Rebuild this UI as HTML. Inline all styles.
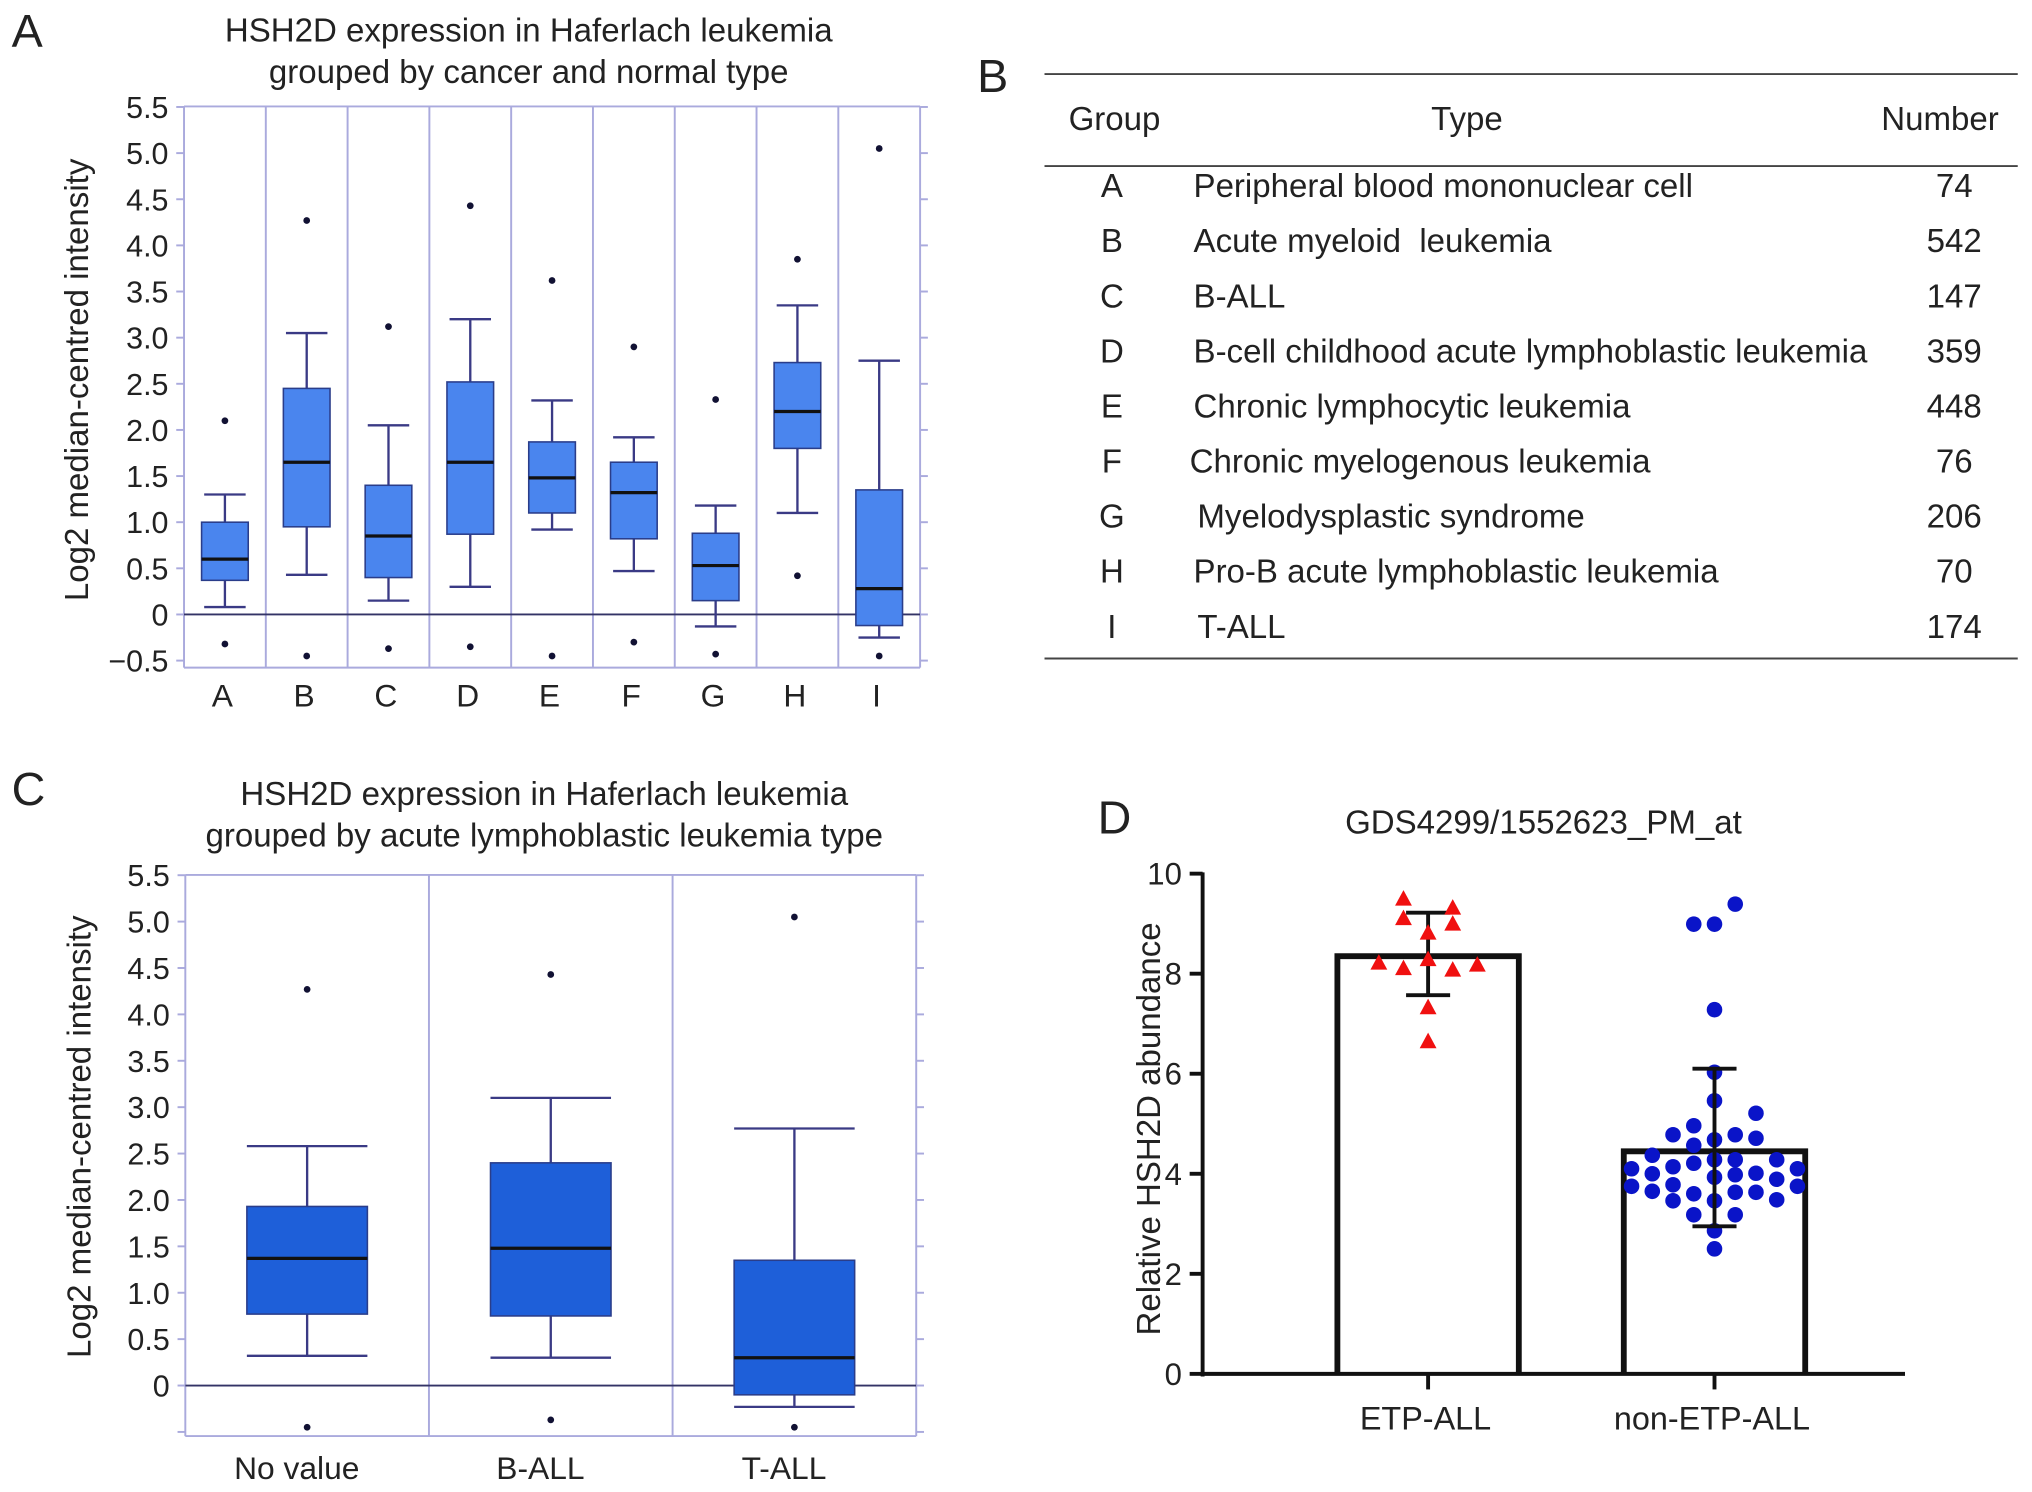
<!DOCTYPE html>
<html><head><meta charset="utf-8"><style>
html,body{margin:0;padding:0;background:#fff}
svg{display:block}
text{font-family:"Liberation Sans",Arial,sans-serif;fill:#222}
</style></head><body>
<svg id="fig" width="2032" height="1492" viewBox="0 0 1568 1151" xmlns="http://www.w3.org/2000/svg">
<g id="pa"></g>
<g id="pb"></g>
<g id="pc"></g>
<g id="pd"></g>
</svg>
<script>
// ---- Panel A data ----
const aCats = ["A","B","C","D","E","F","G","H","I"];
const aWlo = [0.08,0.43,0.15,0.3,0.92,0.47,-0.13,1.1,-0.25];
const aQ1 = [0.37,0.95,0.4,0.87,1.1,0.82,0.15,1.8,-0.12];
const aMed = [0.6,1.65,0.85,1.65,1.48,1.32,0.53,2.2,0.28];
const aQ3 = [1.0,2.45,1.4,2.52,1.87,1.65,0.88,2.73,1.35];
const aWhi = [1.3,3.05,2.05,3.2,2.32,1.92,1.18,3.35,2.75];
const aOutHi = [2.1,4.27,3.12,4.43,3.62,2.9,2.33,3.85,5.05];
const aOutLo = [-0.32,-0.45,-0.37,-0.35,-0.45,-0.3,-0.43,0.42,-0.45];
const yTicks = [-0.5,0,0.5,1.0,1.5,2.0,2.5,3.0,3.5,4.0,4.5,5.0,5.5];
const yTickLabels = ["\u22120.5","0","0.5","1.0","1.5","2.0","2.5","3.0","3.5","4.0","4.5","5.0","5.5"];
// ---- Panel B data ----
const bGroups = ["A","B","C","D","E","F","G","H","I"];
const bTypes = ["Peripheral blood mononuclear cell","Acute myeloid \u00a0leukemia","B-ALL","B-cell childhood acute lymphoblastic leukemia","Chronic lymphocytic leukemia","Chronic myelogenous leukemia","Myelodysplastic syndrome","Pro-B acute lymphoblastic leukemia","T-ALL"];
const bNumbers = [74,542,147,359,448,76,206,70,174];
// ---- Panel C data ----
const cCats = ["No value","B-ALL","T-ALL"];
const cWlo = [0.32,0.3,-0.23];
const cQ1 = [0.77,0.75,-0.1];
const cMed = [1.37,1.48,0.3];
const cQ3 = [1.93,2.4,1.35];
const cWhi = [2.58,3.1,2.77];
const cOutHi = [4.27,4.43,5.05];
const cOutLo = [-0.45,-0.37,-0.45];
// ---- Panel D data ----
const dCats = ["ETP-ALL","non-ETP-ALL"];
const dMeans = [8.35,4.45];
const dErrLo = [7.57,2.95];
const dErrHi = [9.22,6.1];
const dTicks = [0,2,4,6,8,10];
const etpVals = [9.49,9.31,9.10,8.99,8.81,8.28,8.21,8.10,8.07,8.17,7.32,6.64];
const etpSlot = [-1,1,-1,1,0,0,-2,-1,1,2,0,0];
const nonVals = [9.39,8.99,8.99,7.28,6.03,5.46,5.21,4.96,4.78,4.78,4.68,4.71,4.57,4.37,4.28,4.28,4.28,4.21,4.10,4.14,4.10,4.00,3.93,3.98,4.01,3.75,3.78,3.89,3.75,3.65,3.60,3.63,3.63,3.46,3.46,3.48,3.18,3.18,2.86,2.50];
const nonSlot = [1,-1,0,0,0,0,2,-1,-2,1,0,2,-1,-3,0,1,3,-1,-4,-2,4,-3,0,1,2,-4,-2,3,4,-3,-1,1,2,0,-2,3,-1,1,0,0];

const NS="http://www.w3.org/2000/svg";
function mk(parent,tag,attrs,txt){const e=document.createElementNS(NS,tag);for(const k in attrs)e.setAttribute(k,attrs[k]);if(txt!==undefined)e.textContent=txt;parent.appendChild(e);return e;}
const grid="#aaaadd", wc="#3a3a85";

function boxPanel(g,o){
  const y=v=>o.y0-v*o.k;
  const n=o.cats.length, cw=(o.x1-o.x0)/n;
  let e=mk(g,"line",{x1:o.x0,y1:o.top,x2:o.x1,y2:o.top,stroke:grid,"stroke-width":1.5});
  
  for(let i=0;i<=n;i++){
    e=mk(g,"line",{x1:o.x0+i*cw,y1:o.top,x2:o.x0+i*cw,y2:o.bot,stroke:grid,"stroke-width":1.5});
    
  }
  e=mk(g,"line",{x1:o.x0,y1:y(0),x2:o.x1,y2:y(0),stroke:"#333366","stroke-width":1.5});
  
  e=mk(g,"line",{x1:o.x0,y1:o.bot,x2:o.x1,y2:o.bot,stroke:grid,"stroke-width":1.5});
  
  o.ticks.forEach((t,i)=>{
    if(y(t)>o.bot+2) return;
    let l=mk(g,"line",{x1:o.x0-6,y1:y(t),x2:o.x0,y2:y(t),stroke:grid,"stroke-width":1.5});
    
    l=mk(g,"line",{x1:o.x1,y1:y(t),x2:o.x1+6,y2:y(t),stroke:grid,"stroke-width":1.5});
    
    if(o.skipTick && t===o.skipTick) return;
    const tx=mk(g,"text",{x:o.x0-12,y:y(t)+8.5,"text-anchor":"end","font-size":23.5},o.labels[i]);
    
  });
  o.cats.forEach((c,i)=>{
    const cx=o.x0+(i+0.5)*cw, hw=o.bw/2, ww=o.ww/2;
    const s=mk(g,"g",{});
    
    mk(s,"line",{x1:cx,y1:y(o.whi[i]),x2:cx,y2:y(o.q3[i]),stroke:wc,"stroke-width":1.8});
    mk(s,"line",{x1:cx,y1:y(o.q1[i]),x2:cx,y2:y(o.wlo[i]),stroke:wc,"stroke-width":1.8});
    mk(s,"line",{x1:cx-ww,y1:y(o.whi[i]),x2:cx+ww,y2:y(o.whi[i]),stroke:wc,"stroke-width":1.8});
    mk(s,"line",{x1:cx-ww,y1:y(o.wlo[i]),x2:cx+ww,y2:y(o.wlo[i]),stroke:wc,"stroke-width":1.8});
    mk(s,"rect",{x:cx-hw,y:y(o.q3[i]),width:o.bw,height:y(o.q1[i])-y(o.q3[i]),fill:o.fill,stroke:"#2a3d8a","stroke-width":1.2});
    mk(s,"line",{x1:cx-hw,y1:y(o.med[i]),x2:cx+hw,y2:y(o.med[i]),stroke:"#111","stroke-width":2.5});
    mk(s,"circle",{cx:cx,cy:y(o.outHi[i]),r:2.6,fill:"#111133"});
    mk(s,"circle",{cx:cx,cy:y(o.outLo[i]),r:2.6,fill:"#111133"});
    const tx=mk(g,"text",{x:cx-(o.labShift||0),y:o.labY,"text-anchor":"middle","font-size":o.labSize},c);
    
  });
}

// Panel A
const pa=document.getElementById("pa");
let t;
t=mk(pa,"text",{x:9,y:36,"font-size":36},"A");
t=mk(pa,"text",{x:408,y:32,"text-anchor":"middle","font-size":25.5},"HSH2D expression in Haferlach leukemia");
t=mk(pa,"text",{x:408,y:64,"text-anchor":"middle","font-size":25.5},"grouped by cancer and normal type");
t=mk(pa,"text",{x:0,y:0,"text-anchor":"middle","font-size":25.5,transform:"translate(68,293) rotate(-90)"},"Log2 median-centred intensity");
boxPanel(pa,{cats:aCats,wlo:aWlo,q1:aQ1,med:aMed,q3:aQ3,whi:aWhi,outHi:aOutHi,outLo:aOutLo,ticks:yTicks,labels:yTickLabels,
  x0:142,x1:710,top:82,bot:515,y0:474,k:71.2,bw:36,ww:32,fill:"#4a85ee",labY:545,labSize:24.5,labShift:2});

// Panel B table
const pb=document.getElementById("pb");
t=mk(pb,"text",{x:754,y:71,"font-size":36},"B");
[[57],[128],[508]].forEach((r,i)=>{const l=mk(pb,"line",{x1:806,y1:r[0],x2:1557,y2:r[0],stroke:"#444","stroke-width":1.5});
});
t=mk(pb,"text",{x:860,y:100,"text-anchor":"middle","font-size":25.5},"Group");
t=mk(pb,"text",{x:1132,y:100,"text-anchor":"middle","font-size":25.5},"Type");
t=mk(pb,"text",{x:1497,y:100,"text-anchor":"middle","font-size":25.5},"Number");
const typeX=[921,921,921,921,921,918,924,921,924];
bGroups.forEach((gname,i)=>{
  const yy=152+i*42.5;
  const row=mk(pb,"g",{});
  mk(row,"text",{x:858,y:yy,"text-anchor":"middle","font-size":25.5},gname);
  mk(row,"text",{x:typeX[i],y:yy,"font-size":25.5},bTypes[i]);
  mk(row,"text",{x:1508,y:yy,"text-anchor":"middle","font-size":25.5},String(bNumbers[i]));
});

// Panel C
const pc=document.getElementById("pc");
t=mk(pc,"text",{x:9,y:621,"font-size":36},"C");
t=mk(pc,"text",{x:420,y:621,"text-anchor":"middle","font-size":25.5},"HSH2D expression in Haferlach leukemia");
t=mk(pc,"text",{x:420,y:653,"text-anchor":"middle","font-size":25.5},"grouped by acute lymphoblastic leukemia type");
t=mk(pc,"text",{x:0,y:0,"text-anchor":"middle","font-size":25.5,transform:"translate(70,877) rotate(-90)"},"Log2 median-centred intensity");
boxPanel(pc,{cats:cCats,wlo:cWlo,q1:cQ1,med:cMed,q3:cQ3,whi:cWhi,outHi:cOutHi,outLo:cOutLo,ticks:yTicks,labels:yTickLabels,skipTick:-0.5,
  x0:143,x1:707,top:675,bot:1108,y0:1069,k:71.6,bw:93,ww:93,fill:"#1e5fd9",labY:1141,labSize:24.5,labShift:8});

// Panel D
const pd=document.getElementById("pd");
const dy=v=>1060-v*38.6;
const dCx=[1102,1323];
t=mk(pd,"text",{x:847,y:643,"font-size":36},"D");
t=mk(pd,"text",{x:1191,y:643,"text-anchor":"middle","font-size":25.5},"GDS4299/1552623_PM_at");
t=mk(pd,"text",{x:0,y:0,"text-anchor":"middle","font-size":25.5,transform:"translate(895,871) rotate(-90)"},"Relative HSH2D abundance");
let e=mk(pd,"line",{x1:928,y1:dy(10)-1,x2:928,y2:1062,stroke:"#111","stroke-width":3});
e=mk(pd,"line",{x1:926.5,y1:1060,x2:1470,y2:1060,stroke:"#111","stroke-width":3});
dTicks.forEach(v=>{
  let l=mk(pd,"line",{x1:918,y1:dy(v),x2:928,y2:dy(v),stroke:"#111","stroke-width":3});
  l=mk(pd,"text",{x:912,y:dy(v)+8.5,"text-anchor":"end","font-size":24},String(v));
});
dCats.forEach((c,i)=>{
  const cx=dCx[i];
  let b=mk(pd,"path",{d:`M${cx-70},1060 V${dy(dMeans[i])} H${cx+70} V1060`,fill:"none",stroke:"#111","stroke-width":4.5});
  
  let l=mk(pd,"line",{x1:cx,y1:1060,x2:cx,y2:1072,stroke:"#111","stroke-width":3});
  l=mk(pd,"text",{x:cx-2,y:1103,"text-anchor":"middle","font-size":25},c);
});
function errbar(i){
  const cx=dCx[i];
  const eg=mk(pd,"g",{stroke:"#111","stroke-width":3});
  
  mk(eg,"line",{x1:cx,y1:dy(dErrHi[i]),x2:cx,y2:dy(dErrLo[i])});
  mk(eg,"line",{x1:cx-17,y1:dy(dErrHi[i]),x2:cx+17,y2:dy(dErrHi[i])});
  mk(eg,"line",{x1:cx-17,y1:dy(dErrLo[i]),x2:cx+17,y2:dy(dErrLo[i])});
}
errbar(0);
etpVals.forEach((v,i)=>{
  const x=dCx[0]+etpSlot[i]*19, y=dy(v);
  const p=mk(pd,"polygon",{points:`${x},${y-7} ${x-6.5},${y+5} ${x+6.5},${y+5}`,fill:"#f01010"});
  
});
nonVals.forEach((v,i)=>{
  const p=mk(pd,"circle",{cx:dCx[1]+nonSlot[i]*16,cy:dy(v),r:6,fill:"#0a14c8"});
  
});
errbar(1);
</script>
</body></html>
